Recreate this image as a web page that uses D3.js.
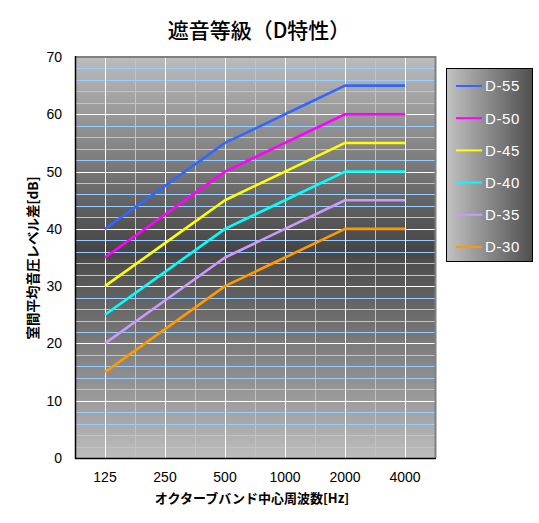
<!DOCTYPE html>
<html><head><meta charset="utf-8">
<script src="https://cdn.jsdelivr.net/npm/d3@7"></script>
<style>
html,body{margin:0;padding:0;background:#fff;}
svg{display:block;}
</style></head>
<body>
<script>
// ---- data ----
const categories = ["125", "250", "500", "1000", "2000", "4000"];
const seriesNames = ["D-55", "D-50", "D-45", "D-40", "D-35", "D-30"];
const d55 = [40, 47.5, 55, 60, 65, 65];
const d50 = [35, 42.5, 50, 55, 60, 60];
const d45 = [30, 37.5, 45, 50, 55, 55];
const d40 = [25, 32.5, 40, 45, 50, 50];
const d35 = [20, 27.5, 35, 40, 45, 45];
const d30 = [15, 22.5, 30, 35, 40, 40];
const yTicks = [0, 10, 20, 30, 40, 50, 60, 70];
const titleText = "遮音等級（D特性）";
const xTitle = "オクターブバンド中心周波数[Hz]";
const yTitle = "室間平均音圧レベル差[dB]";

const seriesValues = [d55, d50, d45, d40, d35, d30];
const colors = ["#3366ff", "#ff00ff", "#ffff00", "#00ffff", "#cc99ff", "#ff9900"];

const W = 539, H = 523;
const plot = {left: 75, right: 435, top: 57, bottom: 458};

const svg = d3.select("body").append("svg").attr("width", W).attr("height", H);
const defs = svg.append("defs");
const g1 = defs.append("linearGradient").attr("id", "plotbg").attr("x1", 0).attr("y1", 0).attr("x2", 0).attr("y2", 1);
g1.append("stop").attr("offset", "0%").attr("stop-color", "#bcbcbc");
g1.append("stop").attr("offset", "48%").attr("stop-color", "#464646");
g1.append("stop").attr("offset", "100%").attr("stop-color", "#bdbdbd");
const g2 = defs.append("linearGradient").attr("id", "legbg").attr("x1", 0).attr("y1", 0).attr("x2", 1).attr("y2", 0);
g2.append("stop").attr("offset", "0%").attr("stop-color", "#c2c2c2");
g2.append("stop").attr("offset", "100%").attr("stop-color", "#4f4f4f");

const x = d3.scaleBand().domain(categories).range([plot.left, plot.right]);
const y = d3.scaleLinear().domain([0, 70]).range([plot.bottom, plot.top]);

// plot background
svg.append("rect").attr("x", plot.left).attr("y", plot.top)
  .attr("width", plot.right - plot.left).attr("height", plot.bottom - plot.top)
  .attr("fill", "url(#plotbg)");

// minor horizontal grid (every 2)
const minor = d3.range(2, 70, 2).filter(v => v % 10 !== 0);
svg.append("g").selectAll("line").data(minor).join("line")
  .attr("x1", plot.left).attr("x2", plot.right)
  .attr("y1", d => Math.round(y(d)) + 0.5).attr("y2", d => Math.round(y(d)) + 0.5)
  .attr("stroke", "#99ccff").attr("stroke-width", 1);
// vertical minor grid at category boundaries
const bounds = categories.slice(1).map(c => x(c));
svg.append("g").selectAll("line").data(bounds).join("line")
  .attr("x1", d => Math.round(d) + 0.5).attr("x2", d => Math.round(d) + 0.5)
  .attr("y1", plot.top).attr("y2", plot.bottom)
  .attr("stroke", "#99ccff").attr("stroke-width", 1);
// major horizontal grid
svg.append("g").selectAll("line").data(yTicks.filter(v => v > 0 && v < 70)).join("line")
  .attr("x1", plot.left).attr("x2", plot.right)
  .attr("y1", d => Math.round(y(d)) + 0.5).attr("y2", d => Math.round(y(d)) + 0.5)
  .attr("stroke", "#ffffff").attr("stroke-width", 1);
// major vertical grid at categories
svg.append("g").selectAll("line").data(categories).join("line")
  .attr("x1", d => Math.round(x(d) + x.bandwidth() / 2) + 0.5).attr("x2", d => Math.round(x(d) + x.bandwidth() / 2) + 0.5)
  .attr("y1", plot.top).attr("y2", plot.bottom)
  .attr("stroke", "#ffffff").attr("stroke-width", 1);

// borders
svg.append("line").attr("x1", plot.left).attr("x2", plot.right + 1).attr("y1", plot.top).attr("y2", plot.top)
  .attr("stroke", "#808080").attr("stroke-width", 2);
svg.append("line").attr("x1", plot.right + 0.5).attr("x2", plot.right + 0.5).attr("y1", plot.top - 1).attr("y2", plot.bottom)
  .attr("stroke", "#808080").attr("stroke-width", 2);
svg.append("line").attr("x1", plot.left + 0.5).attr("x2", plot.left + 0.5).attr("y1", plot.top - 1).attr("y2", plot.bottom + 1)
  .attr("stroke", "#000").attr("stroke-width", 1.5);
svg.append("line").attr("x1", plot.left).attr("x2", plot.right + 1).attr("y1", plot.bottom + 0.5).attr("y2", plot.bottom + 0.5)
  .attr("stroke", "#000").attr("stroke-width", 1.5);

// series lines
const line = d3.line().x((d, i) => x(categories[i]) + x.bandwidth() / 2).y(d => y(d));
svg.append("g").selectAll("path").data(seriesValues).join("path")
  .attr("d", d => line(d)).attr("fill", "none")
  .attr("stroke", (d, i) => colors[i]).attr("stroke-width", 2.6)
  .attr("stroke-linejoin", "round");

// y axis labels
const yAxis = d3.axisLeft(y).tickValues(yTicks).tickSize(0).tickPadding(0);
const ya = svg.append("g").attr("transform", `translate(62,0)`).call(yAxis);
ya.select(".domain").remove();
ya.selectAll("text").attr("font-family", "Liberation Sans, Arial, sans-serif").attr("font-size", 14).attr("fill", "#000");

// x axis labels
const xAxis = d3.axisBottom(x).tickSize(0).tickPadding(0);
const xa = svg.append("g").attr("transform", `translate(0,472)`).call(xAxis);
xa.select(".domain").remove();
xa.selectAll("text").attr("font-family", "Liberation Sans, Arial, sans-serif").attr("font-size", 14).attr("fill", "#000");

// title
svg.append("text").attr("x", 259).attr("y", 38).attr("text-anchor", "middle")
  .attr("font-family", "Noto Sans CJK JP, sans-serif").attr("font-size", 21).attr("font-weight", 500).attr("fill", "#000")
  .text(titleText);
// axis titles
svg.append("text").attr("x", 252).attr("y", 503).attr("text-anchor", "middle")
  .attr("font-family", "Noto Sans CJK JP, sans-serif").attr("font-weight", "bold").attr("font-size", 13).attr("fill", "#000")
  .text(xTitle);
svg.append("text").attr("transform", "translate(38,258) rotate(-90)").attr("text-anchor", "middle")
  .attr("font-family", "Noto Sans CJK JP, sans-serif").attr("font-weight", "bold").attr("font-size", 13.5).attr("fill", "#000")
  .text(yTitle);

// legend
const leg = svg.append("g");
leg.append("rect").attr("x", 446.5).attr("y", 68.5).attr("width", 86).attr("height", 193)
  .attr("fill", "url(#legbg)").attr("stroke", "#000").attr("stroke-width", 1);
const ly = d3.scalePoint().domain(seriesNames).range([86, 247]);
const items = leg.selectAll("g.item").data(seriesNames).join("g").attr("class", "item")
  .attr("transform", d => `translate(0,${ly(d)})`);
items.append("line").attr("x1", 456).attr("x2", 482).attr("y1", 0).attr("y2", 0)
  .attr("stroke", (d, i) => colors[i]).attr("stroke-width", 2);
items.append("text").attr("x", 485).attr("y", 0).attr("dy", "0.36em")
  .attr("font-family", "Liberation Sans, Arial, sans-serif").attr("font-size", 15).attr("fill", "#fff")
  .attr("letter-spacing", 0.6)
  .text(d => d);
</script>
</body></html>
